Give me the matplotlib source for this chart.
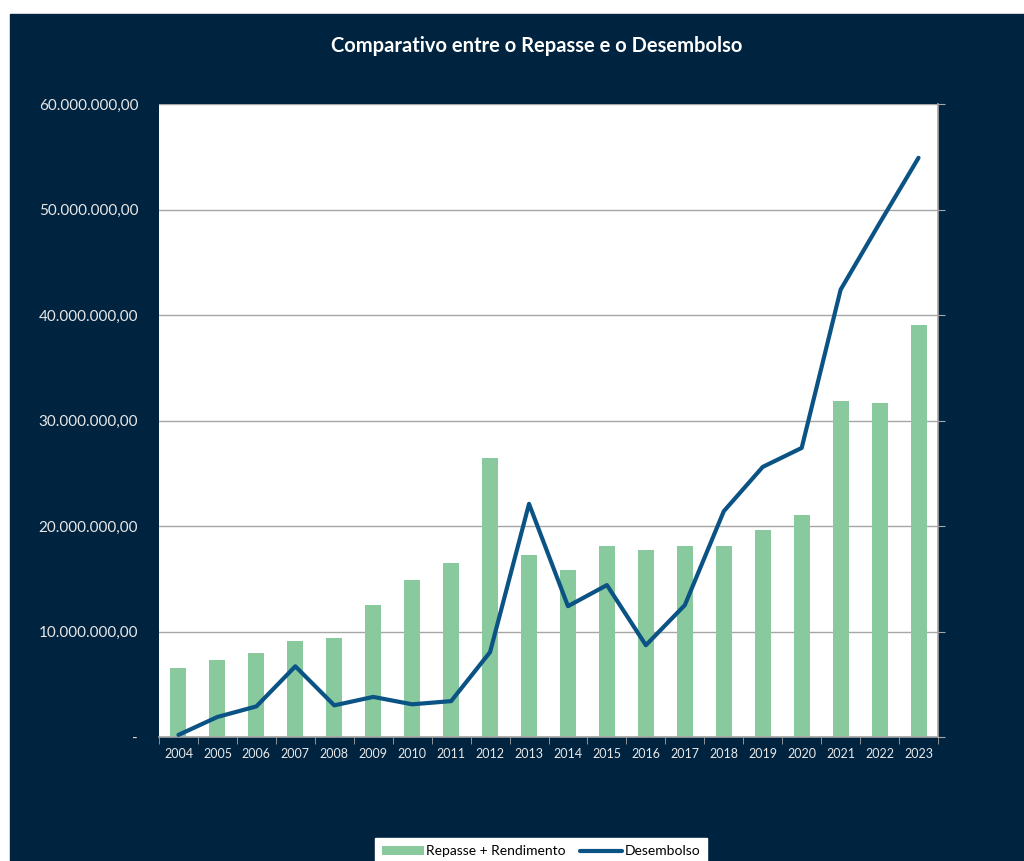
import matplotlib.pyplot as plt
import matplotlib.ticker as mticker
from matplotlib.patches import Rectangle
import numpy as np

anos = [str(a) for a in range(2004, 2024)]
repasse = [6.54, 7.3, 7.96, 9.1, 9.38, 12.5, 14.9, 16.5, 26.45, 17.25,
           15.8, 18.1, 17.7, 18.1, 18.1, 19.6, 21.0, 31.85, 31.66, 39.05]
desembolso = [0.2, 1.9, 2.9, 6.7, 3.0, 3.8, 3.1, 3.4, 8.05, 22.1,
              12.4, 14.4, 8.7, 12.5, 21.4, 25.6, 27.4, 42.4, 48.7, 54.9]
repasse = np.array(repasse) * 1e6
desembolso = np.array(desembolso) * 1e6

navy = '#00233F'
verde = '#88C99E'
azul = '#0B5384'

plt.rcParams['font.family'] = ['Lato', 'DejaVu Sans']

fig = plt.figure(figsize=(10.24, 8.61), dpi=100, facecolor='white')
fig.patches.append(Rectangle((10 / 1024, 0), 1, 1 - 14 / 861,
                             transform=fig.transFigure, color=navy, zorder=-5))

ax = fig.add_axes([159 / 1024, 1 - 737 / 861, 779 / 1024, 633 / 861])
ax.set_facecolor('white')

x = np.arange(len(anos))
barras = ax.bar(x, repasse, width=0.41, color=verde, zorder=2, label='Repasse + Rendimento')
linha, = ax.plot(x, desembolso, color=azul, linewidth=3, zorder=3, label='Desembolso',
                 solid_capstyle='round', solid_joinstyle='round')

ax.set_xlim(-0.5, len(anos) - 0.5)
ax.set_ylim(0, 60e6)
ax.set_yticks(np.arange(0, 60e6 + 1, 10e6))


def fmt(v, pos):
    if v == 0:
        return '-'
    return '{:,.2f}'.format(v).replace(',', 'X').replace('.', ',').replace('X', '.')


ax.yaxis.set_major_formatter(mticker.FuncFormatter(fmt))
ax.grid(axis='y', color='#A6A6A6', linewidth=1, zorder=1)
ax.set_axisbelow(True)

ax.set_xticks(x)
ax.set_xticklabels(anos)
ax.set_xticks(np.arange(-0.5, len(anos)), minor=True)
ax.tick_params(axis='x', which='major', length=0, pad=8, labelsize=9, labelcolor='#E8E8E8')
ax.tick_params(axis='x', which='minor', length=5, color='#A6A6A6', direction='out')
ax.tick_params(axis='y', left=False, right=True, length=5, color='#A6A6A6',
               direction='out', pad=10, labelsize=11, labelcolor='#E8E8E8')

for s in ['left', 'top']:
    ax.spines[s].set_visible(False)
for s in ['right', 'bottom']:
    ax.spines[s].set_color('#A6A6A6')
    ax.spines[s].set_linewidth(1.2)

fig.text(537 / 1024, 1 - 46 / 861, 'Comparativo entre o Repasse e o Desembolso',
         ha='center', va='center', color='white', fontsize=14.5, fontweight='bold')

leg = fig.legend([barras, linha], ['Repasse + Rendimento', 'Desembolso'],
                 loc='lower center', bbox_to_anchor=(541 / 1024, -0.012), ncol=2,
                 frameon=True, fancybox=False, edgecolor='white', facecolor='white',
                 framealpha=1, fontsize=10, handlelength=3.0, handletextpad=0.2,
                 columnspacing=1.0, borderpad=0.5)

fig.savefig('out.png', dpi=100, facecolor=fig.get_facecolor())
